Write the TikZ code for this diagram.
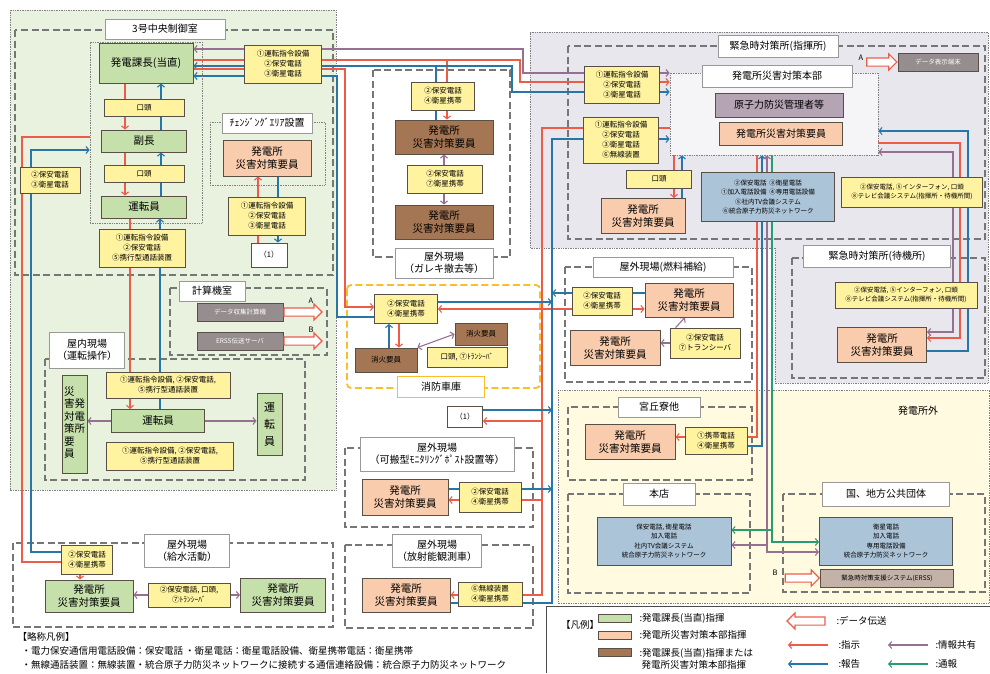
\documentclass[tikz,border=0pt]{standalone}
\usepackage{fontspec}
\setmainfont{Noto Sans CJK JP}
\usetikzlibrary{arrows.meta,shapes.arrows}
\definecolor{cgreen}{RGB}{198,224,172}
\definecolor{corange}{RGB}{248,204,172}
\definecolor{cbrown}{RGB}{164,118,84}
\definecolor{cyellow}{RGB}{255,243,160}
\definecolor{cblue}{RGB}{172,196,216}
\definecolor{cgray}{RGB}{150,142,142}
\definecolor{cmauvebox}{RGB}{180,164,180}
\definecolor{cerss}{RGB}{196,178,168}
\definecolor{cedge}{RGB}{88,80,70}
\definecolor{cdash}{RGB}{118,118,118}
\definecolor{cfire}{RGB}{250,190,40}
\definecolor{bggreen}{RGB}{233,241,223}
\definecolor{bglav}{RGB}{233,231,238}
\definecolor{bgyellow}{RGB}{255,250,224}
\definecolor{wred}{RGB}{236,92,72}
\definecolor{wblue}{RGB}{38,118,168}
\definecolor{wmauve}{RGB}{150,112,146}
\definecolor{wgreen}{RGB}{40,158,112}
\newcommand{\fbig}{\fontsize{10.5}{12.5}\selectfont}
\newcommand{\ftitle}{\fontsize{10}{12}\selectfont}
\newcommand{\fsmall}{\fontsize{7.5}{10}\selectfont}
\newcommand{\ftiny}{\fontsize{6.5}{9.5}\selectfont}
\newcommand{\fleg}{\fontsize{9.5}{12}\selectfont}
\pgfdeclarelayer{back}
\pgfdeclarelayer{wire}
\pgfsetlayers{back,wire,main}

\begin{document}
\begin{tikzpicture}[x=1pt, y=-1pt, >={Straight Barb[length=3pt,width=7pt]},
  box/.style={draw=cedge, line width=0.9pt, align=center, inner sep=1pt},
  grn/.style={box, fill=cgreen, font=\fbig},
  org/.style={box, fill=corange, font=\fbig},
  brn/.style={box, fill=cbrown, font=\fbig},
  ylw/.style={box, fill=cyellow, font=\fsmall, line width=0.8pt},
  blu/.style={box, fill=cblue, font=\ftiny},
  gry/.style={box, fill=cgray, text=white, font=\ftiny},
  ttl/.style={draw=gray!80, fill=white, line width=0.7pt, align=center, font=\ftitle, inner sep=1pt},
  area/.style={draw=cdash, line width=1.8pt, dash pattern=on 7pt off 3.5pt},
  grp/.style={draw=gray, line width=0.7pt, densely dotted},
  ord/.style={->, draw=wred, line width=1.1pt},
  rep/.style={->, draw=wblue, line width=1.1pt},
  shr/.style={->, draw=wmauve, line width=1.1pt},
  tsu/.style={->, draw=wgreen, line width=1.1pt},
  darr/.style={single arrow, draw=wred, fill=white, line width=1.1pt, inner sep=3.5pt, single arrow head extend=4pt, minimum height=38}]
\useasboundingbox (0,0) rectangle (990,673);

% areas and rooms
\begin{pgfonlayer}{back}
\fill[bggreen] (10,10) rectangle (336,490);
\draw[grp] (10,10) rectangle (336,490);
\fill[bglav] (530,32) -- (988,32) -- (988,383) -- (775,383) -- (775,248) -- (530,248) -- cycle;
\draw[grp] (530,32) -- (988,32) -- (988,383) -- (775,383) -- (775,248) -- (530,248) -- cycle;
\fill[bgyellow] (558,390) rectangle (989,603);
\draw[grp] (558,390) rectangle (989,603);
\draw[area] (15,30) rectangle (333,275);
\draw[grp] (210,122) rectangle (325,185);
\draw[area] (170,288) rectangle (327,355);
\draw[area] (45,359) rectangle (305,480);
\draw[area] (13,543) rectangle (333,627);
\draw[area] (373,70) rectangle (510,257);
\draw[area, draw=cfire, rounded corners=4pt] (347,285) rectangle (540,388);
\draw[area] (345,448) rectangle (533,527);
\draw[area] (345,545) rectangle (533,628);
\draw[area] (568,46) rectangle (985,239);
\draw[area] (792,258) rectangle (985,378);
\draw[area] (565,267) rectangle (752,382);
\draw[area] (568,407) rectangle (752,480);
\draw[area] (568,494) rectangle (750,593);
\draw[area] (783,494) rectangle (985,592);
\draw[gray!60!black, line width=1pt] (546,673) -- (546,606) -- (990,606);
\end{pgfonlayer}

% central control room
\node[ttl, minimum width=120, minimum height=20] (tcr) at (165,29) {3号中央制御室};
\node[grp, minimum width=112, minimum height=181] (chain) at (146,132.5) {};
\node[grn, minimum width=94, minimum height=40] (kacho) at (146,63) {発電課長(当直)};
\node[ylw, minimum width=80, minimum height=17] (kt1) at (144,108) {口頭};
\node[grn, minimum width=85, minimum height=22] (fuku) at (144,141) {副長};
\node[ylw, minimum width=80, minimum height=17] (kt2) at (144,174) {口頭};
\node[grn, minimum width=85, minimum height=22] (unten) at (144,207) {運転員};
\node[ylw, minimum width=86, minimum height=38] (yc1) at (142,248) {①運転指令設備\\②保安電話\\⑤携行型通話装置};
\node[ylw, minimum width=77, minimum height=38] (yk1) at (283,64) {①運転指令設備\\②保安電話\\③衛星電話};
\node[ylw, minimum width=60, minimum height=26] (yl1) at (50,180) {②保安電話\\③衛星電話};
\node[ttl, minimum width=90, minimum height=20] (tchg) at (267,123) {ﾁｪﾝｼﾞﾝｸﾞｴﾘｱ設置};
\node[org, minimum width=88, minimum height=36] (chgorg) at (267,158) {発電所\\災害対策要員};
\node[ylw, minimum width=77, minimum height=38] (ychg) at (267,216) {①運転指令設備\\②保安電話\\③衛星電話};
\node[box, fill=white, font=\fsmall, minimum width=36, minimum height=24] (ref1a) at (269,255) {（1）};

% computer room
\node[ttl, minimum width=66, minimum height=20] (tcalc) at (212,291) {計算機室};
\node[gry, minimum width=86, minimum height=18] (calc1) at (240,312) {データ収集計算機};
\node[gry, minimum width=86, minimum height=18] (calc2) at (240,341) {ERSS伝送サーバ};
\node[darr, anchor=tail] (dA) at (calc1.east) {};
\node[darr, anchor=tail] (dB) at (calc2.east) {};
\node[font=\fsmall] (lA) at (311,301) {A};
\node[font=\fsmall] (lB) at (311,330) {B};

% indoor field
\node[ttl, minimum width=75, minimum height=36] (tind) at (87,350) {屋内現場\\（運転操作）};
\node[grn, minimum width=25, minimum height=98, inner sep=0pt] (vyoin) at (74.5,424)
  {\begin{tabular}{@{}c@{}c@{}}災&\\害&発\\対&電\\策&所\\要&\\員&\end{tabular}};
\node[grn, minimum width=25, minimum height=62, font=\fontsize{11}{17}\selectfont] (vunten) at (269.5,424) {運\\転\\員};
\node[ylw, minimum width=124, minimum height=26] (yind1) at (168,385) {①運転指令設備, ②保安電話,\\⑤携行型通話装置};
\node[grn, minimum width=93, minimum height=23] (unten2) at (158,421) {運転員};
\node[ylw, minimum width=127, minimum height=28] (yind2) at (170,456) {①運転指令設備, ②保安電話,\\⑤携行型通話装置};

% water supply
\node[ttl, minimum width=85, minimum height=33] (tkyu) at (187,551) {屋外現場\\（給水活動）};
\node[ylw, minimum width=51, minimum height=29] (ykyu1) at (87,560) {②保安電話\\④衛星携帯};
\node[grn, minimum width=88, minimum height=32] (gkyu1) at (89,596) {発電所\\災害対策要員};
\node[ylw, minimum width=82, minimum height=24] (ykyu2) at (189,595) {②保安電話, 口頭,\\⑦ﾄﾗﾝｼｰﾊﾞ};
\node[grn, minimum width=85, minimum height=34] (gkyu2) at (283,595) {発電所\\災害対策要員};

% rubble removal
\node[ttl, minimum width=98, minimum height=30] (tgar) at (444,263) {屋外現場\\（ガレキ撤去等）};
\node[ylw, minimum width=63, minimum height=28] (ygar1) at (443,96) {②保安電話\\④衛星携帯};
\node[brn, minimum width=98, minimum height=34] (bgar1) at (444,137) {発電所\\災害対策要員};
\node[ylw, minimum width=75, minimum height=28] (ygar2) at (445,179) {②保安電話\\⑦衛星携帯};
\node[brn, minimum width=98, minimum height=34] (bgar2) at (444,222) {発電所\\災害対策要員};

% fire depot
\node[ttl, draw=cfire, minimum width=87, minimum height=21] (tfire) at (441,387) {消防車庫};
\node[ylw, minimum width=63, minimum height=29] (yfire) at (406,309) {②保安電話\\④衛星携帯};
\node[brn, minimum width=52, minimum height=22, font=\fsmall] (bfire1) at (481,334) {消火要員};
\node[brn, minimum width=62, minimum height=24, font=\fsmall] (bfire2) at (386,360) {消火要員};
\node[ylw, minimum width=80, minimum height=20] (yfire2) at (467,357) {口頭, ⑦ﾄﾗﾝｼｰﾊﾞ};
\node[box, fill=white, font=\fsmall, minimum width=35, minimum height=21] (ref1b) at (465,417) {（1）};

% monitoring post / survey car
\node[ttl, minimum width=154, minimum height=34] (tkah) at (437,454) {屋外現場\\（可搬型ﾓﾆﾀﾘﾝｸﾞﾎﾟｽﾄ設置等）};
\node[org, minimum width=86, minimum height=36] (okah) at (405,497) {発電所\\災害対策要員};
\node[ylw, minimum width=62, minimum height=30] (ykah) at (490,497) {②保安電話\\④衛星携帯};
\node[ttl, minimum width=89, minimum height=33] (thou) at (437,551) {屋外現場\\（放射能観測車）};
\node[org, minimum width=88, minimum height=34] (ohou) at (406,595) {発電所\\災害対策要員};
\node[ylw, minimum width=64, minimum height=24] (yhou) at (490,594) {⑥無線装置\\④衛星携帯};

% emergency response centre (command)
\node[ttl, minimum width=120, minimum height=22] (tshiki) at (778,46) {緊急時対策所(指揮所)};
\node[grp, fill=white!55!bglav, minimum width=208, minimum height=82] (honbu) at (774,114) {};
\node[ttl, minimum width=150, minimum height=22] (thonbu) at (777,76) {発電所災害対策本部};
\node[box, fill=cmauvebox, font=\ftitle, minimum width=128, minimum height=24] (kanri) at (779,105) {原子力防災管理者等};
\node[org, minimum width=123, minimum height=23, font=\ftitle] (ohonbu) at (781,134) {発電所災害対策要員};
\node[ylw, minimum width=75, minimum height=37] (yem1) at (622,85) {①運転指令設備\\②保安電話\\③衛星電話};
\node[ylw, minimum width=75, minimum height=46] (yem2) at (621,140) {①運転指令設備\\②保安電話\\③衛星電話\\⑥無線装置};
\node[ylw, minimum width=65, minimum height=18] (kto) at (659,179) {口頭};
\node[org, minimum width=84, minimum height=35] (oem) at (643,216) {発電所\\災害対策要員};
\node[blu, minimum width=133, minimum height=49] (bem) at (768,197) {②保安電話\ \ ③衛星電話\\①加入電話設備\ \ ④専用電話設備\\⑤社内TV会議システム\\⑥統合原子力防災ネットワーク};
\node[ylw, font=\ftiny, minimum width=141, minimum height=30] (yem3) at (912,192) {②保安電話, ⑤インターフォン, 口頭\\⑧テレビ会議システム(指揮所・待機所間)};
\node[gry, minimum width=80, minimum height=18] (spds) at (938,62) {データ表示端末};
\node[darr, minimum height=30, anchor=tip] (dA2) at (spds.west) {};
\node[font=\fsmall] (lA2) at (861,58) {A};

% emergency response centre (standby)
\node[ttl, minimum width=147, minimum height=22] (ttaiki) at (877,256) {緊急時対策所(待機所)};
\node[ylw, font=\ftiny, minimum width=142, minimum height=26] (yem4) at (906,295) {②保安電話, ⑤インターフォン, 口頭\\⑧テレビ会議システム(指揮所・待機所間)};
\node[org, minimum width=89, minimum height=35] (otaiki) at (882,345) {発電所\\災害対策要員};

% fuel supply
\node[ttl, minimum width=140, minimum height=20] (tfuel) at (663,267) {屋外現場(燃料補給)};
\node[ylw, minimum width=60, minimum height=28] (yfuel1) at (602,301) {②保安電話\\④衛星携帯};
\node[org, minimum width=88, minimum height=34] (ofuel1) at (689,300) {発電所\\災害対策要員};
\node[org, minimum width=90, minimum height=35] (ofuel2) at (615,348) {発電所\\災害対策要員};
\node[ylw, minimum width=70, minimum height=30] (yfuel2) at (705,343) {②保安電話\\⑦トランシーバ};

% off-site
\node[font=\ftitle] (gaibu) at (918,411) {発電所外};
\node[ttl, minimum width=82, minimum height=20] (tmiya) at (659,407) {宮丘寮他};
\node[org, minimum width=90, minimum height=35] (omiya) at (630,442) {発電所\\災害対策要員};
\node[ylw, minimum width=62, minimum height=27] (ymiya) at (716,441) {①携帯電話\\④衛星携帯};
\node[ttl, minimum width=72, minimum height=22] (thon) at (659,494) {本店};
\node[blu, minimum width=134, minimum height=48] (bhon) at (664,541) {保安電話, 衛星電話\\加入電話\\社内TV会議システム\\統合原子力防災ネットワーク};
\node[ttl, minimum width=127, minimum height=24] (tkuni) at (886,494) {国、地方公共団体};
\node[blu, minimum width=133, minimum height=48] (bkuni) at (886,541) {衛星電話\\加入電話\\専用電話設備\\統合原子力防災ネットワーク};
\node[box, fill=cerss, font=\ftiny, minimum width=133, minimum height=18] (erss) at (887,578) {緊急時対策支援システム(ERSS)};
\node[darr, minimum height=34, anchor=tip] (dB2) at (erss.west) {};
\node[font=\fsmall] (lB2) at (775,573) {B};

% abbreviations
\node[anchor=west, font=\fleg] (ryaku) at (14,637) {【略称凡例】};
\node[anchor=west, font=\fleg] (ryaku1) at (18,651) {・電力保安通信用電話設備：保安電話\ ・衛星電話：衛星電話設備、衛星携帯電話：衛星携帯};
\node[anchor=west, font=\fleg] (ryaku2) at (18,665) {・無線通話装置：無線装置・統合原子力防災ネットワークに接続する通信連絡設備：統合原子力防災ネットワーク};

% legend
\node[font=\fleg] (hanrei) at (580,625) {【凡例】};
\node[box, fill=cgreen, minimum width=33, minimum height=8, inner sep=0pt] (lg1) at (615,618) {};
\node[box, fill=corange, minimum width=33, minimum height=8, inner sep=0pt] (lg2) at (615,635) {};
\node[box, fill=cbrown, minimum width=33, minimum height=8, inner sep=0pt] (lg3) at (615,652) {};
\node[anchor=west, font=\fleg] (lt1) at (636,618) {:発電課長(当直)指揮};
\node[anchor=west, font=\fleg] (lt2) at (636,635) {:発電所災害対策本部指揮};
\node[anchor=west, font=\fleg, align=left] (lt3) at (636,659) {:発電課長(当直)指揮または\\\ 発電所災害対策本部指揮};
\node[darr, minimum height=38, shape border rotate=180] (ldata) at (808,621) {};
\node[anchor=west, font=\fleg] (lt4) at (833,621) {:データ伝送};
\node[anchor=west, font=\fleg] (lt5) at (835,645) {:指示};
\node[anchor=west, font=\fleg] (lt6) at (835,664) {:報告};
\node[anchor=west, font=\fleg] (lt7) at (932,645) {:情報共有};
\node[anchor=west, font=\fleg] (lt8) at (932,664) {:通報};
\coordinate (lo1) at (828,645); \coordinate (lo2) at (788,645);
\coordinate (lr1) at (828,664); \coordinate (lr2) at (788,664);
\coordinate (ls1) at (928,645); \coordinate (ls2) at (888,645);
\coordinate (lm1) at (928,664); \coordinate (lm2) at (888,664);

% wires
\begin{pgfonlayer}{wire}
\draw[ord] (lo1) -- (lo2);
\draw[rep] (lr1) -- (lr2);
\draw[shr] (ls1) -- (ls2);
\draw[tsu] (lm1) -- (lm2);
% control room chain
\draw[ord] (kacho.south -| 125,0) -- (fuku.north -| 125,0);
\draw[ord] (fuku.south -| 125,0) -- (unten.north -| 125,0);
\draw[rep] (fuku.north -| 161,0) -- (kacho.south -| 161,0);
\draw[rep] (unten.north -| 161,0) -- (fuku.south -| 161,0);
\draw[ord] (unten.south -| 130,0) -- (unten2.north -| 130,0);
\draw[rep] (unten2.north -| 160,0) -- (unten.south -| 160,0);
\draw[shr] (unten2.west) -- (vyoin.east |- unten2.west);
\draw[shr] (unten2.east) -- (vunten.west |- unten2.east);
\draw[ord] (ref1a.north -| 258,0) -- (chgorg.south -| 258,0);
\draw[rep] (chgorg.south -| 278,0) -- (ref1a.north -| 278,0);
% water supply
\draw[ord, -] (chain.west |- 0,137) -- (22,137) -- (22,562) -- (ykyu1.west |- 0,562);
\draw[ord] (ykyu1.south -| 80,0) -- (gkyu1.north -| 80,0);
\draw[rep] (ykyu1.west |- 0,552) -- (31,552) -- (31,150) -- (chain.west |- 0,150);
\draw[shr] (ykyu2.west) -- (gkyu1.east |- ykyu2.west);
\draw[shr] (ykyu2.east) -- (gkyu2.west |- ykyu2.east);
% shift supervisor - headquarters
\draw[shr, <->] (kacho.east |- 0,49) -- (523,49) -- (523,73) -- (honbu.west |- 0,73);
\draw[ord] (kacho.east |- 0,60) -- (520,60) -- (520,82) -- (honbu.west |- 0,82);
\coordinate (garR) at (447,60);
\draw[ord] (garR) -- (bgar1.north -| garR);
\draw[rep, <->] (kacho.east |- 0,66) -- (512,66) -- (512,92) -- (honbu.west |- 0,92);
\coordinate (garB) at (436,66);
\draw[rep, -] (bgar1.north -| garB) -- (garB);
\draw[shr, <->] (bgar1.south) -- (bgar2.north);
% fire depot
\draw[ord] (kacho.east |- 0,69) -- (345,69) -- (345,307) -- (yfire.west |- 0,307);
\draw[rep] (yfire.west |- 0,317) -- (337,317) -- (337,76) -- (kacho.east |- 0,76);
\draw[rep] (bfire2.north -| 389,0) -- (yfire.south -| 389,0);
\draw[ord] (yfire.south -| 399,0) -- (bfire2.north -| 399,0);
\draw[shr, <->] (bfire2.north east) -- (bfire1.west);
% headquarters bus
\draw[ord] (honbu.west |- 0,128) -- (542,128) -- (542,309) -- (yfire.east |- 0,309);
\draw[ord] (honbu.west |- 0,128) -- (542,128) -- (542,309) -- (ofuel1.west |- 0,309);
\draw[ord] (honbu.west |- 0,128) -- (542,128) -- (542,421) -- (ref1b.east |- 0,421);
\draw[ord] (honbu.west |- 0,128) -- (542,128) -- (542,500) -- (okah.east |- 0,500);
\draw[ord] (honbu.west |- 0,128) -- (542,128) -- (542,595) -- (ohou.east |- 0,595);
\draw[rep] (ohou.east |- 0,603) -- (552,603) -- (552,139) -- (honbu.west |- 0,139);
\coordinate (bb1) at (552,302); \draw[rep] (yfire.east |- bb1) -- (bb1);
\coordinate (bb2) at (552,293); \draw[rep] (ofuel1.west |- bb2) -- (bb2);
\coordinate (bb3) at (552,410); \draw[rep] (ref1b.east |- bb3) -- (bb3);
\coordinate (bb4) at (552,489); \draw[rep] (okah.east |- bb4) -- (bb4);
% headquarters inside
\draw[ord] (honbu.south -| 674,0) -- (oem.north -| 674,0);
\draw[rep] (oem.north -| 682,0) -- (honbu.south -| 682,0);
% headquarters - standby
\draw[shr, <->] (honbu.east |- 0,152) -- (953,152) -- (953,332) -- (otaiki.east |- 0,332);
\draw[ord] (honbu.east |- 0,143) -- (960,143) -- (960,338) -- (otaiki.east |- 0,338);
\draw[rep] (otaiki.east |- 0,351) -- (968,351) -- (968,131) -- (honbu.east |- 0,131);
% fuel supply
\draw[shr] ([xshift=6pt]yfuel2.north west) -- ([xshift=-4pt]ofuel1.south);
\draw[shr] (yfuel2.west) -- (ofuel2.east |- yfuel2.west);
% off-site
\draw[ord] (honbu.south -| 757,0) -- (757,437) -- (omiya.east |- 0,437);
\draw[rep] (ymiya.east |- 0,446) -- (762,446) -- (honbu.south -| 762,0);
\draw[shr, <->] (honbu.south -| 767,0) -- (767,552) -- (bkuni.west |- 0,552);
\coordinate (mhon) at (767,545); \draw[shr] (mhon) -- (bhon.east |- mhon);
\draw[tsu] (honbu.south -| 772,0) -- (772,542) -- (bkuni.west |- 0,542);
\coordinate (ghon) at (772,530); \draw[tsu] (ghon) -- (bhon.east |- ghon);
\end{pgfonlayer}
\end{tikzpicture}
\end{document}
